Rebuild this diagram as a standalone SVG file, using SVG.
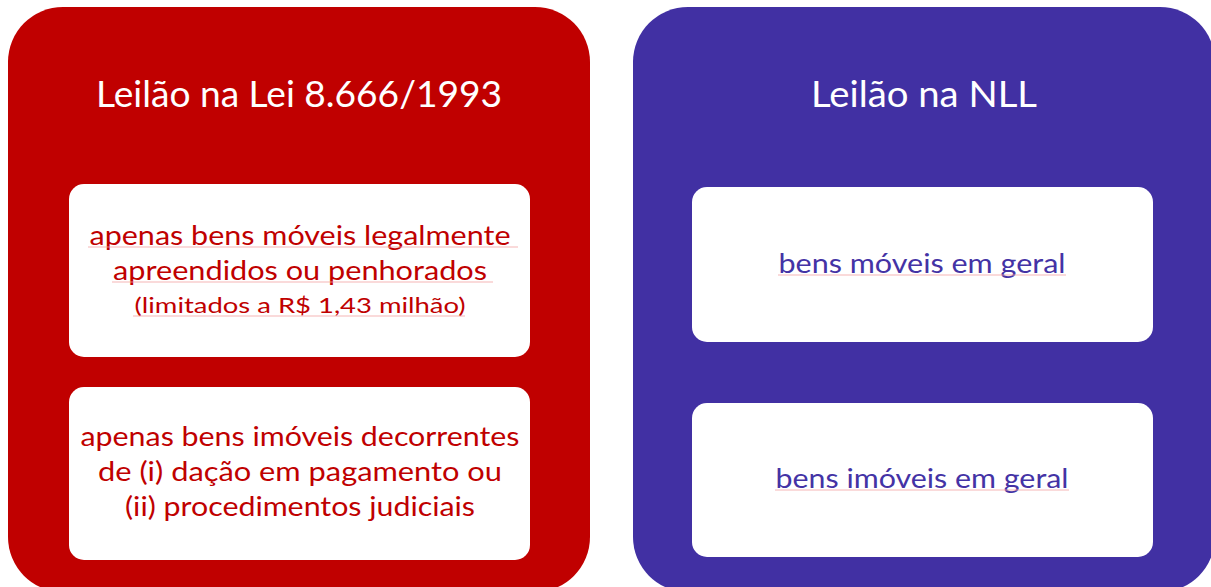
<svg xmlns="http://www.w3.org/2000/svg" width="1211" height="587" viewBox="0 0 1211 587">
<style>
.t{font-family:Lato,"Open Sans","Liberation Sans",sans-serif;text-anchor:middle}
.title{fill:#ffffff;font-size:36px}
.red{fill:#C00000;font-size:26px}
.redS{fill:#C00000;font-size:21px}
.pur{fill:#4433A5;font-size:26px}
.box{fill:#ffffff}
.ul{stroke:#F3A3A3;stroke-width:1;opacity:0.8}
</style>
<rect width="1211" height="587" fill="#ffffff"/>
<g id="panel-left">
<rect x="8" y="7" width="582" height="585" rx="55" fill="#C00000"/>
<text class="t title" x="299" y="107" textLength="406" lengthAdjust="spacingAndGlyphs">Leilão na Lei 8.666/1993</text>
</g>
<g id="panel-right">
<rect x="633" y="7" width="582" height="585" rx="55" fill="#4130A3"/>
<text class="t title" x="924" y="107" textLength="226" lengthAdjust="spacingAndGlyphs">Leilão na NLL</text>
</g>
<g id="box-left-1">
<rect class="box" x="69" y="184" width="461" height="173" rx="15"/>
<text class="t red" x="300" y="245" textLength="421" lengthAdjust="spacingAndGlyphs">apenas bens móveis legalmente</text>
<text class="t red" x="300" y="280" textLength="374" lengthAdjust="spacingAndGlyphs">apreendidos ou penhorados</text>
<text class="t redS" x="300" y="313" textLength="331" lengthAdjust="spacingAndGlyphs">(limitados a R$ 1,43 milhão)</text>
<line class="ul" x1="88" y1="247" x2="518" y2="247"/>
<line class="ul" x1="112" y1="282" x2="493" y2="282"/>
<line class="ul" x1="133" y1="316" x2="465" y2="316"/>
</g>
<g id="box-left-2">
<rect class="box" x="69" y="387" width="461" height="173" rx="15"/>
<text class="t red" x="300" y="446" textLength="439" lengthAdjust="spacingAndGlyphs">apenas bens imóveis decorrentes</text>
<text class="t red" x="300" y="481" textLength="404" lengthAdjust="spacingAndGlyphs">de (i) dação em pagamento ou</text>
<text class="t red" x="300" y="516" textLength="350" lengthAdjust="spacingAndGlyphs">(ii) procedimentos judiciais</text>
</g>
<g id="box-right-1">
<rect class="box" x="692" y="187" width="461" height="155" rx="15"/>
<text class="t pur" x="922" y="273" textLength="287" lengthAdjust="spacingAndGlyphs">bens móveis em geral</text>
<line class="ul" x1="778" y1="275" x2="1066" y2="275"/>
</g>
<g id="box-right-2">
<rect class="box" x="692" y="403" width="461" height="154" rx="15"/>
<text class="t pur" x="922" y="488" textLength="293" lengthAdjust="spacingAndGlyphs">bens imóveis em geral</text>
<line class="ul" x1="775" y1="490" x2="1069" y2="490"/>
</g>
<g id="connectors"></g>
</svg>
